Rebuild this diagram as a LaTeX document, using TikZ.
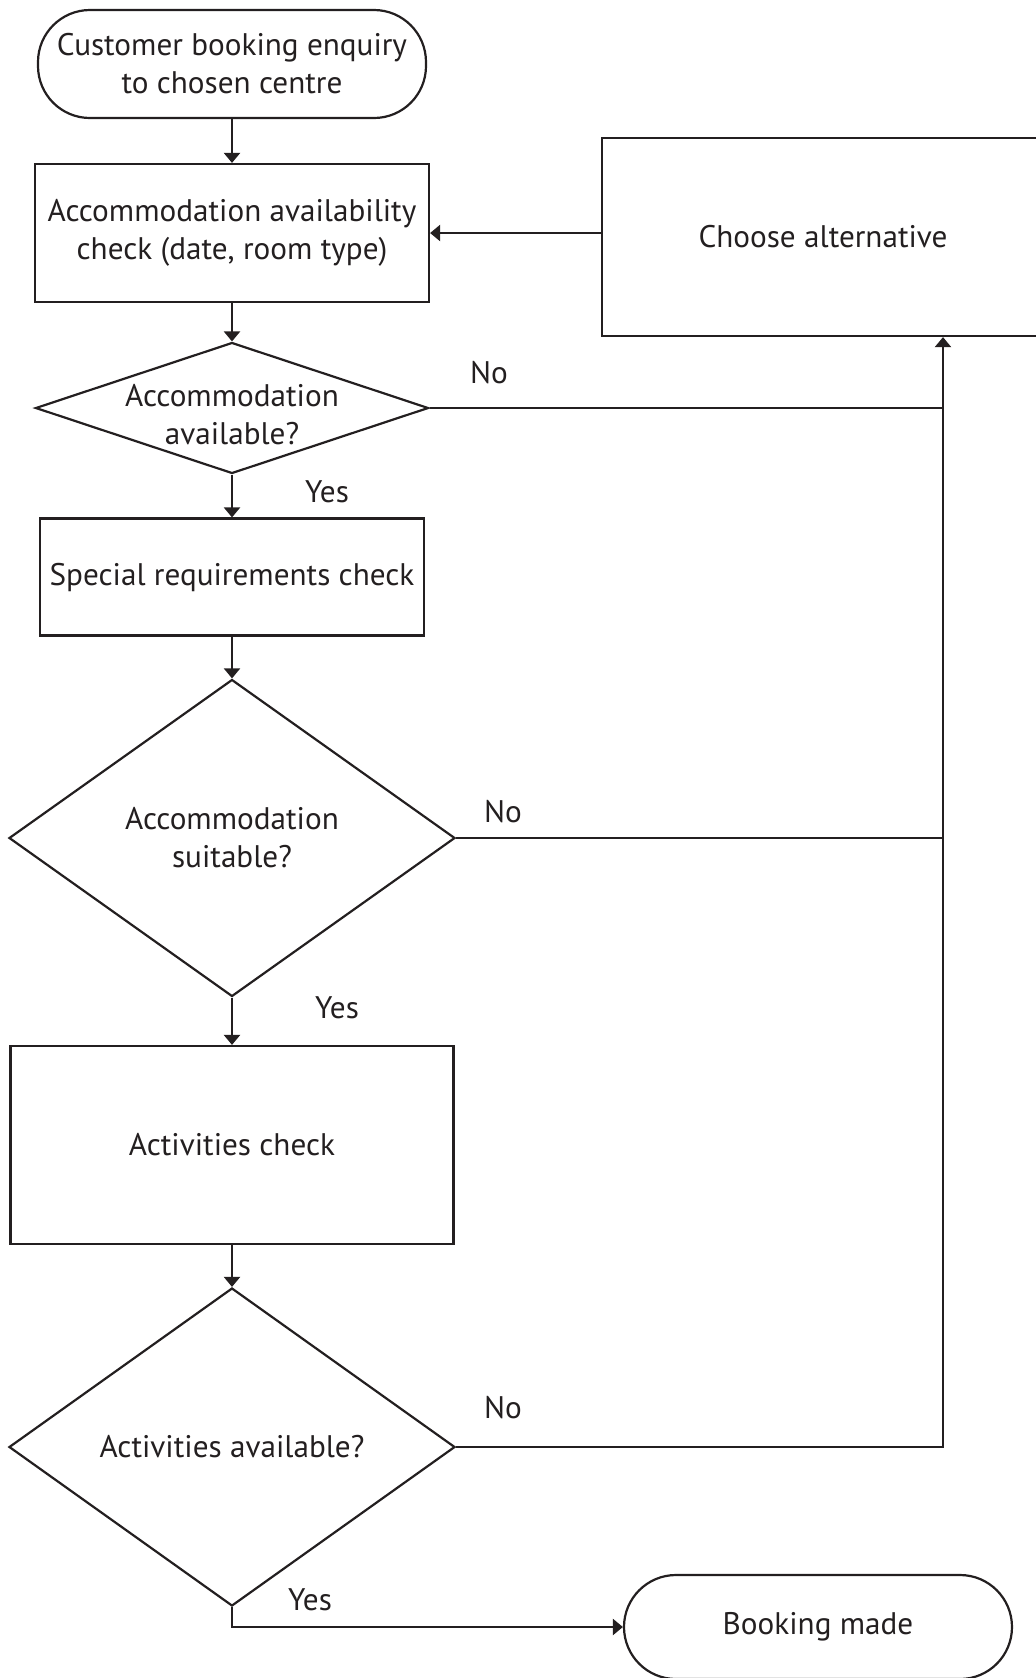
\documentclass[tikz,border=0pt]{standalone}
\usepackage{fontspec}
\setmainfont{PT Sans}
\usetikzlibrary{shapes.geometric,arrows.meta}
\definecolor{ink}{HTML}{231F20}

\begin{document}
\begin{tikzpicture}[x=0.5pt,y=-0.5pt]

  \tikzset{every node/.style = {font=\fontsize{15.6}{19}\selectfont, text=ink, align=center},
           terminal/.style   = {draw=ink, line width=1.1pt, rounded corners=26pt, inner sep=0pt},
           process/.style    = {draw=ink, line width=1.1pt, inner sep=0pt},
           decision/.style   = {draw=ink, line width=1.1pt, diamond, inner xsep=0pt, inner ysep=-6pt},
           flow/.style       = {draw=ink, line width=1.1pt},
           arrow/.style      = {flow, -{Triangle[length=5pt,width=8pt]}},
           answer/.style     = {inner sep=0pt}}

\useasboundingbox (0,0) rectangle (1036,1678);
\clip (0,0) rectangle (1036,1678);

% level 1

\node[terminal, minimum width=194pt, minimum height=54pt] (enquiry) at (232,64)
     {Customer booking enquiry\\to chosen centre};

\node[process, minimum width=197pt, minimum height=69pt] (acccheck) at (232,233)
     {Accommodation availability\\check (date, room type)};

\node[process, minimum width=221pt, minimum height=99pt] (alternative) at (823,237)
     {Choose alternative};

\node[decision, shape aspect=3, minimum width=196.5pt, minimum height=65.5pt] (accavail) at (232,408)
     {\rule{0pt}{17.5pt}Accommodation\\available?};

% level 2

\node[process, minimum width=192pt, minimum height=58.5pt] (special) at (232,577)
     {Special requirements check};

\node[decision, shape aspect=1.4, minimum width=223pt, minimum height=158.5pt] (accsuit) at (232,838)
     {Accommodation\\suitable?};

% level 3

\node[process, minimum width=221.5pt, minimum height=99pt] (actcheck) at (232,1145)
     {Activities check};

\node[decision, shape aspect=1.4, minimum width=223pt, minimum height=159pt] (actavail) at (232,1447)
     {Activities available?};

\node[terminal, minimum width=194pt, minimum height=52pt] (booking) at (818,1627)
     {Booking made};

\coordinate (bend) at (943,1447);

% connectors

\draw[arrow] (enquiry) -- (acccheck);
\draw[arrow] (acccheck) -- (accavail);
\draw[arrow] (accavail) -- (special);
\draw[arrow] (special) -- (accsuit);
\draw[arrow] (accsuit) -- (actcheck);
\draw[arrow] (actcheck) -- (actavail);
\draw[arrow] (actavail.south) |- (booking.west);

\draw[arrow] (alternative.west |- acccheck.east) -- (acccheck.east);

\draw[flow]  (accavail.east) -- (accavail.east -| bend);
\draw[flow]  (accsuit.east) -- (accsuit.east -| bend);
\draw[arrow] (actavail.east) -- (bend) -- (bend |- alternative.south);

% answers

\node[answer] (no1)  at (489,373)  {No};
\node[answer] (yes1) at (327,492)  {Yes};
\node[answer] (no2)  at (503,812)  {No};
\node[answer] (yes2) at (337,1008) {Yes};
\node[answer] (no3)  at (503,1408) {No};
\node[answer] (yes3) at (310,1600) {Yes};

\end{tikzpicture}
\end{document}
